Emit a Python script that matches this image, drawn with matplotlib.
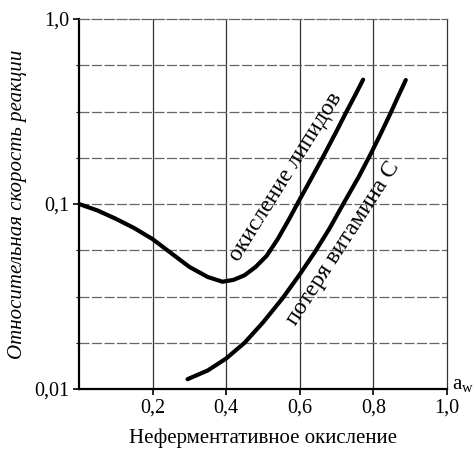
import numpy as np
import matplotlib.pyplot as plt
from matplotlib.ticker import FixedLocator, NullFormatter

plt.rcParams['font.family'] = ['Liberation Serif', 'DejaVu Serif']
plt.rcParams['mathtext.fontset'] = 'custom'
plt.rcParams['mathtext.rm'] = 'Liberation Serif'

# окисление липидов
lipid_x = [0.00, 0.05, 0.10, 0.15, 0.20, 0.25, 0.30, 0.35, 0.39, 0.42, 0.45,
           0.48, 0.51, 0.54, 0.57, 0.60, 0.63, 0.662, 0.70, 0.727, 0.75, 0.772]
lipid_y = [0.100, 0.0923, 0.0832, 0.0741, 0.0646, 0.0543, 0.0457, 0.0403, 0.038,
           0.0389, 0.0412, 0.0457, 0.0525, 0.0646, 0.0822, 0.106, 0.136, 0.178,
           0.248, 0.316, 0.386, 0.47]

# потеря витамина С
vitc_x = [0.295, 0.35, 0.40, 0.45, 0.50, 0.553, 0.60, 0.641, 0.68, 0.718,
          0.76, 0.793, 0.82, 0.845, 0.87, 0.888]
vitc_y = [0.0113, 0.0126, 0.01462, 0.01778, 0.0229, 0.0309, 0.0417, 0.055, 0.0733,
          0.100, 0.140, 0.187, 0.240, 0.305, 0.392, 0.468]

x_ticks = [0.2, 0.4, 0.6, 0.8, 1.0]
x_labels = ['0,2', '0,4', '0,6', '0,8', '1,0']
y_ticks = [0.01, 0.1, 1.0]
y_labels = ['0,01', '0,1', '1,0']
y_grid = [10 ** (-k / 4) for k in range(1, 8) if k != 4]

fig = plt.figure(figsize=(4.77, 4.54), dpi=100)
ax = fig.add_axes([79 / 477, 65 / 454, 368 / 477, 370 / 454])

ax.set_yscale('log')
ax.set_xlim(0, 1.0)
ax.set_ylim(0.01, 1.0)

# сетка
for x in x_ticks[:-1]:
    ax.axvline(x, color='#333333', lw=0.9, zorder=1)
for y in y_grid + [0.1]:
    ax.axhline(y, color='#666666', lw=0.9, ls=(0, (8, 2)), zorder=1)

ax.plot(lipid_x, lipid_y, color='black', lw=3, solid_capstyle='round',
        solid_joinstyle='round', zorder=3)
ax.plot(vitc_x, vitc_y, color='black', lw=3, solid_capstyle='round',
        solid_joinstyle='round', zorder=3)

ax.xaxis.set_major_locator(FixedLocator(x_ticks))
ax.set_xticklabels(x_labels)
ax.yaxis.set_major_locator(FixedLocator(y_ticks))
ax.yaxis.set_minor_locator(FixedLocator(y_grid))
ax.yaxis.set_minor_formatter(NullFormatter())
ax.set_yticklabels(y_labels)
ax.tick_params(axis='both', which='major', labelsize=14.5, length=4, width=1.2,
               color='black', pad=3)
ax.tick_params(axis='y', which='minor', length=2, width=0.8)

for s in ['left', 'bottom']:
    ax.spines[s].set_linewidth(1.6)
ax.spines['right'].set_linewidth(0.9)
ax.spines['right'].set_color('#333333')
ax.spines['top'].set_linewidth(0.9)
ax.spines['top'].set_color('#666666')
ax.spines['top'].set_linestyle((0, (8, 2)))

ax.set_xlabel('Неферментативное окисление', fontsize=15, labelpad=8)
ax.set_ylabel('Относительная скорость реакции', fontsize=15, style='italic',
              labelpad=5)

ax.text(1.014, 0.0, r'$\mathrm{a_w}$', transform=ax.transAxes, fontsize=15,
        ha='left', va='baseline')

ax.text(0.563, 0.140, 'окисление липидов', fontsize=17, rotation=58,
        rotation_mode='anchor', ha='center', va='center', zorder=4)
ax.text(0.717, 0.061, 'потеря витамина С', fontsize=17, rotation=57,
        rotation_mode='anchor', ha='center', va='center', zorder=4)

fig.savefig('out.png', dpi=100)
